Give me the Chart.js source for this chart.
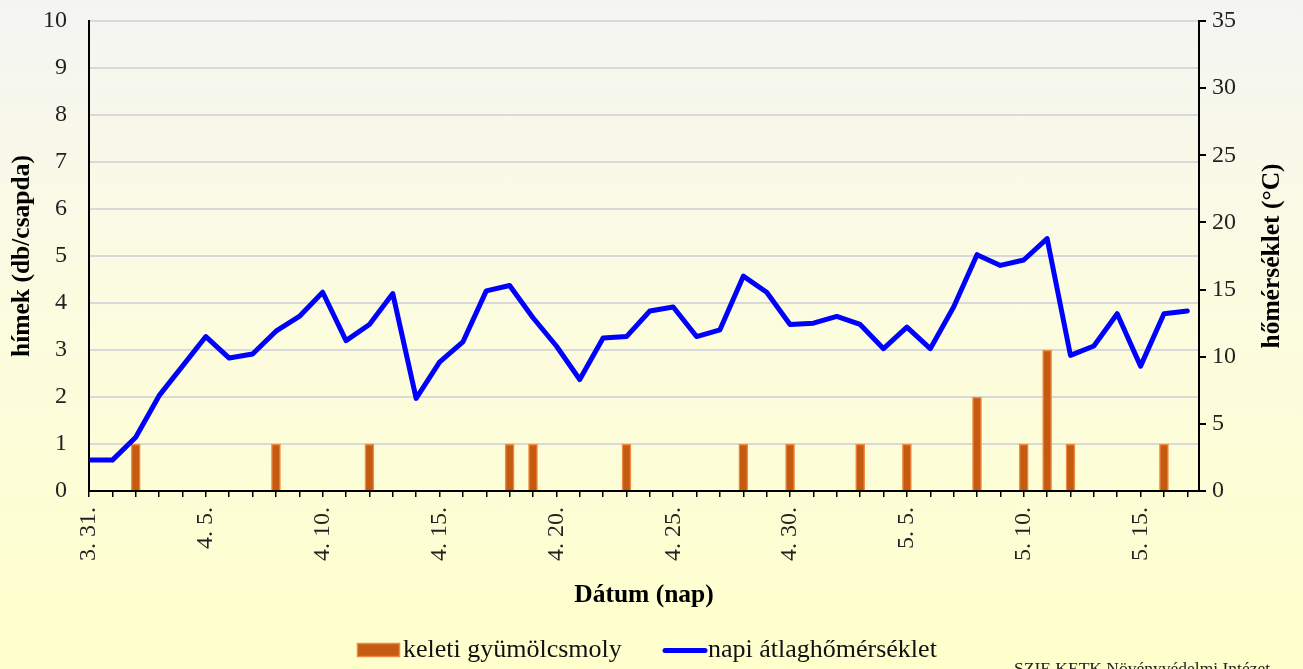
<!DOCTYPE html>
<html><head><meta charset="utf-8">
<script src="https://cdn.jsdelivr.net/npm/chart.js@4.4.0/dist/chart.umd.min.js"></script>
<style>
html,body{margin:0;padding:0;overflow:hidden;background:#ffffcc;}
#wrap{position:relative;width:1303px;height:669px;background:linear-gradient(to bottom,#f4f5f2 0%,#fbfbe2 40%,#ffffcc 100%);}
</style></head><body>
<div id="wrap"><canvas id="c"></canvas></div>
<script>
// ---- data ----
const dates = ['3. 31.','4. 1.','4. 2.','4. 3.','4. 4.','4. 5.','4. 6.','4. 7.','4. 8.','4. 9.',
  '4. 10.','4. 11.','4. 12.','4. 13.','4. 14.','4. 15.','4. 16.','4. 17.','4. 18.','4. 19.',
  '4. 20.','4. 21.','4. 22.','4. 23.','4. 24.','4. 25.','4. 26.','4. 27.','4. 28.','4. 29.',
  '4. 30.','5. 1.','5. 2.','5. 3.','5. 4.','5. 5.','5. 6.','5. 7.','5. 8.','5. 9.',
  '5. 10.','5. 11.','5. 12.','5. 13.','5. 14.','5. 15.','5. 16.','5. 17.'];
const labelEvery = 5;
const moths = [0,0,1,0,0,0,0,0,1,0,
  0,0,1,0,0,0,0,0,1,1,
  0,0,0,1,0,0,0,0,1,0,
  1,0,0,1,0,1,0,0,2,0,
  1,3,1,0,0,0,1,0];
const temps = [2.3,2.3,4.0,7.1,9.3,11.5,9.9,10.2,11.9,13.0,
  14.8,11.2,12.4,14.7,6.9,9.6,11.1,14.9,15.3,12.9,
  10.8,8.3,11.4,11.5,13.4,13.7,11.5,12.0,16.0,14.8,
  12.4,12.5,13.0,12.4,10.6,12.2,10.6,13.7,17.6,16.8,
  17.2,18.8,10.1,10.8,13.2,9.3,13.2,13.4];
const seriesNames = ['keleti gyümölcsmoly','napi átlaghőmérséklet'];
const xTitle = 'Dátum (nap)';
const yTitle = 'hímek (db/csapda)';
const y1Title = 'hőmérséklet (°C)';
const credit = 'SZIE KETK Növényvédelmi Intézet';
const leftRange = [0,10,1];
const rightRange = [0,35,5];

const serif = "'Liberation Serif','Times New Roman',serif";
const tickColor = '#222';

const extras = {
  id:'extras',
  afterDraw(chart){
    const ctx = chart.ctx;
    ctx.save();
    // right axis title (reads bottom to top)
    ctx.font = 'bold 25.5px ' + serif;
    ctx.fillStyle = '#000';
    ctx.textAlign = 'center';
    ctx.textBaseline = 'middle';
    ctx.translate(1272, 256);
    ctx.rotate(-Math.PI/2);
    ctx.fillText(y1Title, 0, 0);
    ctx.restore();

    // legend
    ctx.save();
    ctx.fillStyle = '#c55a11';
    ctx.fillRect(357, 643, 43, 14);
    ctx.strokeStyle = '#ef8a43';
    ctx.lineWidth = 1.5;
    ctx.strokeRect(357.5, 643.5, 42, 13);
    ctx.font = '26px ' + serif;
    ctx.fillStyle = '#111';
    ctx.textAlign = 'left';
    ctx.textBaseline = 'alphabetic';
    ctx.fillText(seriesNames[0], 403, 657);
    ctx.strokeStyle = '#0000ff';
    ctx.lineWidth = 5;
    ctx.lineCap = 'round';
    ctx.beginPath();
    ctx.moveTo(665, 650.5);
    ctx.lineTo(705, 650.5);
    ctx.stroke();
    ctx.fillText(seriesNames[1], 708, 657);
    // credit
    ctx.font = '17.5px ' + serif;
    ctx.fillStyle = '#222';
    ctx.fillText(credit, 1014, 674);
    ctx.restore();
  }
};

function noPad(s){ s.paddingLeft = 0; s.paddingRight = 0; s.paddingTop = 0; s.paddingBottom = 0; }

new Chart(document.getElementById('c'), {
  data: {
    datasets: [
      {type:'line', label: seriesNames[1], data: temps.map((v,i)=>({x:i,y:v})), yAxisID:'y1',
        borderColor:'#0000ff', borderWidth:5, pointRadius:0, tension:0,
        borderJoinStyle:'round', borderCapStyle:'round', order:0},
      {type:'bar', label: seriesNames[0], data: moths.map((v,i)=>({x:i,y:v})), yAxisID:'y',
        backgroundColor:'#c55a11', borderColor:'#ef8a43', borderWidth:1.5, barThickness:9,
        borderSkipped:'bottom', order:1}
    ]
  },
  options: {
    responsive:true, maintainAspectRatio:false, animation:false,
    layout:{padding:{top:21,left:0,right:0,bottom:0}},
    plugins:{legend:{display:false}, tooltip:{enabled:false}},
    scales:{
      x:{type:'linear', position:'bottom', min:0, max:dates.length-0.5, offset:false,
        afterFit(s){ s.height = 178; noPad(s); },
        afterBuildTicks(s){ s.ticks = dates.map((d,i)=>({value:i})); },
        ticks:{autoSkip:false, maxRotation:90, minRotation:90, padding:10,
          font:{family:serif,size:24}, color:tickColor,
          callback:(v)=> (v % labelEvery === 0 ? dates[v] : '')},
        grid:{offset:false, drawOnChartArea:false, drawTicks:true, tickLength:6, color:'#000', lineWidth:1.5},
        border:{display:true, color:'#000', width:2},
        title:{display:true, text:xTitle, font:{family:serif,size:25.5,weight:'bold'}, color:'#000',
          padding:{top:0,bottom:58}}
      },
      y:{type:'linear', position:'left', min:leftRange[0], max:leftRange[1],
        afterFit(s){ s.width = 89; noPad(s); },
        ticks:{stepSize:leftRange[2], padding:22, font:{family:serif,size:24}, color:tickColor},
        grid:{drawTicks:false, color:(c)=> c.tick && c.tick.value===0 ? 'rgba(0,0,0,0)' : '#d9d9d9', lineWidth:2},
        border:{display:true, color:'#000', width:2},
        title:{display:true, text:yTitle, font:{family:serif,size:25.5,weight:'bold'}, color:'#000',
          padding:{top:7,bottom:0}}
      },
      y1:{type:'linear', position:'right', min:rightRange[0], max:rightRange[1],
        afterFit(s){ s.width = 104; noPad(s); },
        ticks:{stepSize:rightRange[2], padding:6, font:{family:serif,size:24}, color:tickColor},
        grid:{drawOnChartArea:false, drawTicks:true, tickLength:7, color:'#000', lineWidth:2},
        border:{display:true, color:'#000', width:2}
      }
    }
  },
  plugins:[extras]
});
</script>
</body></html>
